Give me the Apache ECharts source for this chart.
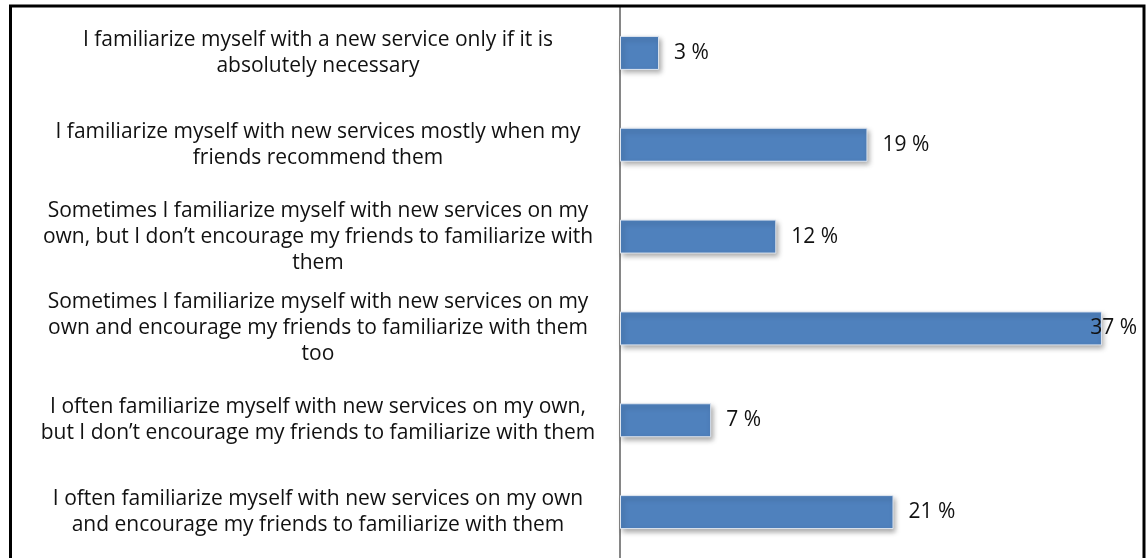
<!DOCTYPE html>
<html>
<head>
<meta charset="utf-8">
<script src="https://cdn.jsdelivr.net/npm/echarts@6/dist/echarts.min.js"></script>
<style>
  html, body { margin: 0; padding: 0; background: #fff; }
  #chart { width: 1147px; height: 558px; }
</style>
</head>
<body>
<div id="chart"></div>
<script>
// Survey answers (top to bottom) and share of respondents in percent
const categories = [
  'I familiarize myself with a new service only if it is\nabsolutely necessary',
  'I familiarize myself with new services mostly when my\nfriends recommend them',
  'Sometimes I familiarize myself with new services on my\nown, but I don\u2019t encourage my friends to familiarize with\nthem',
  'Sometimes I familiarize myself with new services on my\nown and encourage my friends to familiarize with them\ntoo',
  'I often familiarize myself with new services on my own,\nbut I don\u2019t encourage my friends to familiarize with them',
  'I often familiarize myself with new services on my own\nand encourage my friends to familiarize with them'
];
const shares = [3, 19, 12, 37, 7, 21];

const FONT = '"Open Sans", Lato, sans-serif';
const chart = echarts.init(document.getElementById('chart'));
const W = 1147;
const plotRight = 1141;

chart.setOption({
  animation: false,
  backgroundColor: '#ffffff',
  grid: { left: 620, right: W - plotRight, top: 7, height: 556, containLabel: false },
  xAxis: {
    type: 'value', min: 0, max: 40,
    axisLine: { show: false }, axisTick: { show: false },
    axisLabel: { show: false }, splitLine: { show: false }
  },
  yAxis: {
    type: 'category', inverse: true, data: categories,
    axisLine: { show: true, lineStyle: { color: '#868686', width: 2 } },
    axisTick: { show: false },
    axisLabel: {
      align: 'center', margin: 302,
      color: '#111', fontFamily: FONT, fontSize: 21, lineHeight: 26
    }
  },
  series: [{
    type: 'bar',
    data: shares,
    barWidth: 34,
    itemStyle: {
      color: '#4F81BD',
      borderColor: '#dfe6f0', borderWidth: 1,
      shadowColor: 'rgba(0,0,0,0.35)', shadowBlur: 5,
      shadowOffsetX: 2, shadowOffsetY: 3
    },
    label: {
      show: true, position: 'right', distance: 15,
      formatter: p => p.value + ' %',
      color: '#111', fontFamily: FONT, fontSize: 21
    },
    // keep value labels inside the plot frame
    labelLayout: function (params) {
      const r = params.labelRect;
      const limit = plotRight - 4;
      if (r.x + r.width > limit) {
        return { x: limit - r.width, y: r.y, align: 'left', verticalAlign: 'top' };
      }
      return {};
    }
  }],
  graphic: [{
    type: 'rect', silent: true, z: 100,
    shape: { x: 10.5, y: 6, width: 1133.5, height: 600 },
    style: { fill: 'none', stroke: '#000', lineWidth: 3 }
  }]
});
</script>
</body>
</html>
